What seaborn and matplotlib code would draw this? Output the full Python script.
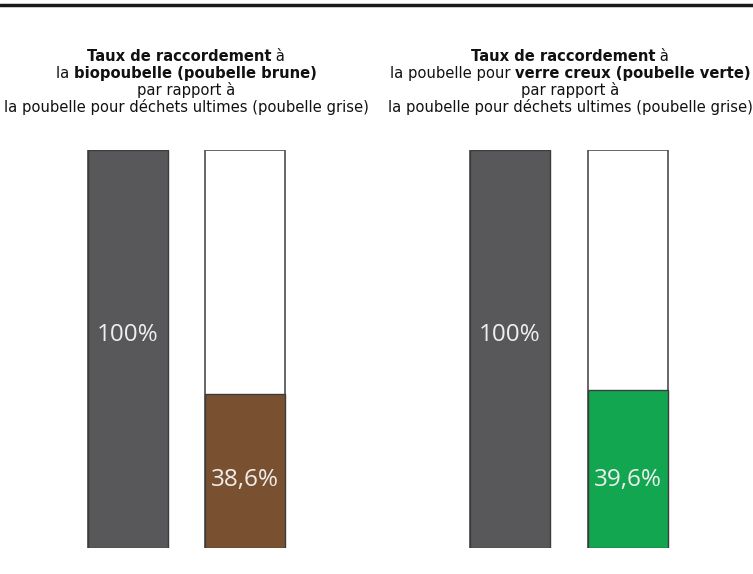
import matplotlib
matplotlib.use("Agg")
import matplotlib.pyplot as plt
import seaborn as sns
import pandas as pd
from matplotlib.lines import Line2D

# data
bins = ["poubelle grise", "poubelle comparée"]
totals = [100, 100]
brune_values = [100, 38.6]
verte_values = [100, 39.6]
brune_labels = ["100%", "38,6%"]
verte_labels = ["100%", "39,6%"]

grey = "#58585a"
brown = "#7a5130"
green = "#12a650"

titles = [
    [[("Taux de raccordement", "bold"), (" à", "normal")],
     [("la ", "normal"), ("biopoubelle (poubelle brune)", "bold")],
     [("par rapport à", "normal")],
     [("la poubelle pour déchets ultimes (poubelle grise)", "normal")]],
    [[("Taux de raccordement", "bold"), (" à", "normal")],
     [("la poubelle pour ", "normal"), ("verre creux (poubelle verte)", "bold")],
     [("par rapport à", "normal")],
     [("la poubelle pour déchets ultimes (poubelle grise)", "normal")]],
]

sns.set_theme(style="white")
plt.rcParams["font.family"] = ["DejaVu Sans"]

W, H = 753, 574
fig = plt.figure(figsize=(W / 100, H / 100), dpi=100)

# axes placed in pixel units
panels = [
    dict(left=69.5, width=234, values=brune_values, labels=brune_labels, color=brown, cx=186),
    dict(left=451, width=236, values=verte_values, labels=verte_labels, color=green, cx=570),
]
bottom_px, top_px = 548, 150

fig.canvas.draw()
renderer = fig.canvas.get_renderer()


def line_of_segments(cx, y, segments, size=10.6):
    # measure each piece, then lay them out centered on cx
    texts = []
    widths = []
    for s, w in segments:
        t = fig.text(0, y, s, fontsize=size, fontweight=w, ha="left", va="baseline",
                     color="#111111")
        widths.append(t.get_window_extent(renderer).width)
        texts.append(t)
    total = sum(widths)
    x = cx - total / 2
    for t, wd in zip(texts, widths):
        t.set_x(x / W)
        x += wd


for p, title in zip(panels, titles):
    ax = fig.add_axes([p["left"] / W, (H - bottom_px) / H, p["width"] / W,
                       (bottom_px - top_px) / H])
    df = pd.DataFrame({"bin": bins, "total": totals, "value": p["values"]})
    sns.barplot(data=df, x="bin", y="total", color="white", width=0.684,
                edgecolor="#5a5a5a", linewidth=1.3, saturation=1, ax=ax)
    sns.barplot(data=df, x="bin", y="value", hue="bin",
                palette=[grey, p["color"]], width=0.684, legend=False,
                edgecolor="#3c3c3c", linewidth=1.0, saturation=1, ax=ax)
    ax.set_xlim(-0.5, 1.5)
    ax.set_ylim(0, 100)
    ax.set_axis_off()
    label_y = [53.5, 17.0]
    for i, lab in enumerate(p["labels"]):
        ax.text(i, label_y[i], lab, ha="center", va="center", fontsize=17.5,
                color="#eeeeee", family=["Open Sans", "DejaVu Sans"])
    base = 57
    for k, segs in enumerate(title):
        yb = base + k * 17
        line_of_segments(p["cx"], 1 - (yb + 4) / H, segs)

# rule across the top
fig.add_artist(Line2D([0, 1], [1 - 5 / H, 1 - 5 / H], color="#1a1a1a", linewidth=2.5,
                      transform=fig.transFigure))

fig.savefig("out.png", dpi=100)
